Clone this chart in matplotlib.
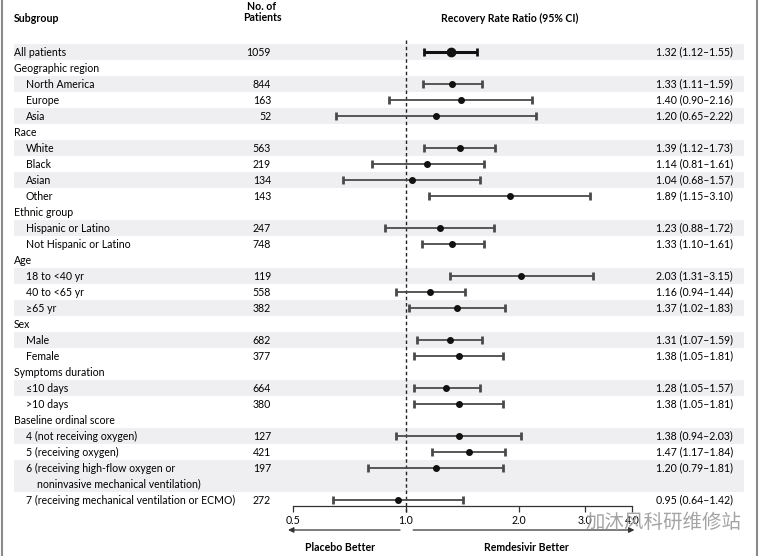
import matplotlib
matplotlib.use("Agg")
import matplotlib.pyplot as plt
import matplotlib.transforms as mtrans
from matplotlib.patches import Rectangle
from matplotlib.lines import Line2D
from matplotlib.ticker import NullLocator

plt.rcParams['font.family'] = ['Lato', 'DejaVu Sans']

# ---- data ----
subgroups = ["All patients", "Geographic region", "North America", "Europe", "Asia",
             "Race", "White", "Black", "Asian", "Other",
             "Ethnic group", "Hispanic or Latino", "Not Hispanic or Latino",
             "Age", "18 to <40 yr", "40 to <65 yr", "\u226565 yr",
             "Sex", "Male", "Female",
             "Symptoms duration", "\u226410 days", ">10 days",
             "Baseline ordinal score", "4 (not receiving oxygen)", "5 (receiving oxygen)",
             "6 (receiving high-flow oxygen or\nnoninvasive mechanical ventilation)",
             "7 (receiving mechanical ventilation or ECMO)"]
is_header = [True, True, False, False, False,
             True, False, False, False, False,
             True, False, False,
             True, False, False, False,
             True, False, False,
             True, False, False,
             True, False, False, False, False]
patients = [1059, None, 844, 163, 52,
            None, 563, 219, 134, 143,
            None, 247, 748,
            None, 119, 558, 382,
            None, 682, 377,
            None, 664, 380,
            None, 127, 421, 197, 272]
ratio = [1.32, None, 1.33, 1.40, 1.20,
         None, 1.39, 1.14, 1.04, 1.89,
         None, 1.23, 1.33,
         None, 2.03, 1.16, 1.37,
         None, 1.31, 1.38,
         None, 1.28, 1.38,
         None, 1.38, 1.47, 1.20, 0.95]
ci_low = [1.12, None, 1.11, 0.90, 0.65,
          None, 1.12, 0.81, 0.68, 1.15,
          None, 0.88, 1.10,
          None, 1.31, 0.94, 1.02,
          None, 1.07, 1.05,
          None, 1.05, 1.05,
          None, 0.94, 1.17, 0.79, 0.64]
ci_high = [1.55, None, 1.59, 2.16, 2.22,
           None, 1.73, 1.61, 1.57, 3.10,
           None, 1.72, 1.61,
           None, 3.15, 1.44, 1.83,
           None, 1.59, 1.81,
           None, 1.57, 1.81,
           None, 2.03, 1.84, 1.81, 1.42]
xticks = [0.5, 1.0, 2.0, 3.0, 4.0]
xticklabels = ["0.5", "1.0", "2.0", "3.0", "4.0"]

W, H = 762, 556
fig = plt.figure(figsize=(W / 100, H / 100), dpi=100)
fig.patch.set_facecolor("white")
ax = fig.add_axes([293 / W, 0, 339 / W, 1])
ax.set_xscale("log")
ax.set_xlim(0.5, 4.0)
ax.set_ylim((H - 52) / 16, -52 / 16)   # row 0 sits 52 px from top, 16 px per row
ax.patch.set_alpha(0)

tr = mtrans.blended_transform_factory(fig.transFigure, ax.transData)
fs = 7.6
shade = "#efeff1"

# row positions
ypos = []
y = 0
for lab in subgroups:
    ypos.append(y)
    y += 2 if "\n" in lab else 1

# shading: alternate inside each group, first item shaded
k = 0
for i, lab in enumerate(subgroups):
    if is_header[i] and i != 0:
        k = 0
        continue
    nlines = 2 if "\n" in lab else 1
    if i == 0 or k % 2 == 0:
        ax.add_patch(Rectangle((14 / W, ypos[i] - 0.5), 730 / W, nlines,
                               transform=tr, color=shade, lw=0, zorder=0, clip_on=False))
    k += 1

# left text columns
for i, lab in enumerate(subgroups):
    x0 = 14 if is_header[i] else 26
    lines = lab.split("\n")
    ax.text(x0 / W, ypos[i], lines[0], transform=tr, fontsize=fs, va="center", ha="left")
    if len(lines) > 1:
        ax.text(37 / W, ypos[i] + 1, lines[1], transform=tr, fontsize=fs, va="center", ha="left")
    if patients[i] is not None:
        ax.text(271 / W, ypos[i], str(patients[i]), transform=tr, fontsize=fs,
                va="center", ha="right")
    if ratio[i] is not None:
        ax.text(733 / W, ypos[i],
                "%.2f (%.2f\u2013%.2f)" % (ratio[i], ci_low[i], ci_high[i]),
                transform=tr, fontsize=fs, va="center", ha="right")

# CI bars
for i in range(len(subgroups)):
    if ratio[i] is None:
        continue
    big = i == 0
    ax.errorbar(ratio[i], ypos[i],
                xerr=[[ratio[i] - ci_low[i]], [ci_high[i] - ratio[i]]],
                fmt="o", color="#111111", ecolor="#111111" if big else "#4a4a4a",
                elinewidth=2.2 if big else 1.3, capsize=2.9, capthick=2.0,
                markersize=6 if big else 4, zorder=3)

# reference line at 1
ax.plot([1, 1], [-0.75, 28.75], color="#222222", lw=1, ls=(0, (2.5, 2)), zorder=2)

# x axis
for s in ["top", "left", "right"]:
    ax.spines[s].set_visible(False)
ax.spines["bottom"].set_position(("data", 28.4))
ax.spines["bottom"].set_color("#333333")
ax.spines["bottom"].set_linewidth(0.9)
ax.set_xticks(xticks)
ax.set_xticklabels(xticklabels)
ax.xaxis.set_minor_locator(NullLocator())
ax.tick_params(axis="x", direction="out", length=4, width=0.9, color="#333333",
               labelsize=fs, pad=2.5)
ax.set_yticks([])

# arrows and labels
ya = 29.875
arr = dict(arrowstyle="-|>", color="#333333", lw=0.9, mutation_scale=8, shrinkA=0, shrinkB=0)
ax.annotate("", xy=(0.485, ya), xytext=(0.964, ya), arrowprops=arr, annotation_clip=False)
ax.annotate("", xy=(4.06, ya), xytext=(1.045, ya), arrowprops=arr, annotation_clip=False)
ax.text(0.667, 30.94, "Placebo Better", fontsize=fs, fontweight="bold", ha="center", va="center")
ax.text(2.09, 30.94, "Remdesivir Better", fontsize=fs, fontweight="bold", ha="center", va="center")

# headers
fig.text(14 / W, 1 - 18 / H, "Subgroup", fontsize=fs, fontweight="bold", va="center", ha="left")
fig.text(262 / W, 1 - 12 / H, "No. of\nPatients", fontsize=fs, fontweight="bold",
         va="center", ha="center", linespacing=1.05)
fig.text(510 / W, 1 - 18 / H, "Recovery Rate Ratio (95% CI)", fontsize=fs,
         fontweight="bold", va="center", ha="center")

# frame lines at the figure edges
fig.add_artist(Line2D([1.5 / W, 1.5 / W], [0, 1], color="#8a8a8a", lw=1.5))
fig.add_artist(Line2D([757 / W, 757 / W], [0, 1], color="#8a8a8a", lw=1.5))

# watermark
fig.text(585 / W, 1 - 522 / H, "\u52a0\u6c90\u98ce\u79d1\u7814\u7ef4\u4fee\u7ad9",
         family=["Noto Sans CJK SC", "DejaVu Sans"], fontsize=14, color="#9a9a9a",
         va="center", ha="left", alpha=0.9)

fig.savefig("out.png", dpi=100)
